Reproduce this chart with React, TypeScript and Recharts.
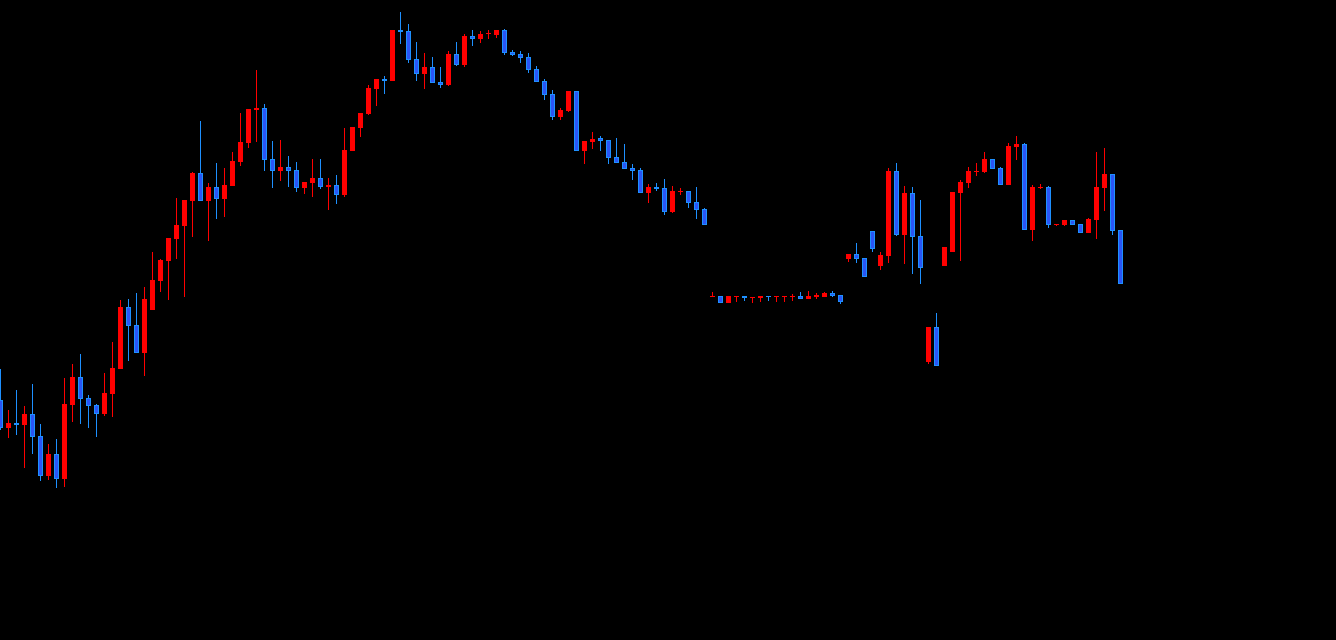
import { BarChart, Bar, XAxis, YAxis } from "recharts";

// price readings, one per session (oldest first)
const opens = [
  240, 212, 217, 215, 226, 204, 164, 186, 161, 235, 263, 242, 235, 226, 246, 271, 333, 315, 287, 330,
  359, 379, 401, 414, 439, 467, 439, 453, 441, 454, 478, 497, 530, 532, 481, 469, 473, 470, 452, 457,
  462, 453, 455, 445, 489, 512, 526, 551, 561, 559, 610, 609, 581, 566, 573, 558, 555, 586, 575, 604,
  601, 606, 605, 610, 588, 586, 583, 571, 559, 546, 523, 529, 549, 489, 498, 502, 500, 483, 478, 472,
  470, 447, 453, 452, 428, 448, 449, 438, 431, 343, 344, 337, 343, 344, 342, 342, 344, 343, 343, 343,
  344, 341, 343, 343, 347, 345, 381, 386, 382, 409, 374, 384, 469, 405, 447, 404, 278, 313, 374, 388,
  447, 457, 468, 468, 481, 472, 455, 493, 496, 410, 452, 453, 415, 415, 420, 416, 407, 420, 452, 466,
  410,
];
const highs = [
  271, 230, 250, 234, 256, 216, 196, 201, 262, 276, 286, 245, 236, 267, 298, 340, 341, 347, 353, 388,
  381, 402, 442, 440, 468, 519, 457, 477, 472, 488, 527, 531, 570, 536, 499, 500, 484, 478, 458, 481,
  481, 462, 465, 512, 513, 527, 555, 561, 564, 610, 628, 616, 598, 587, 583, 573, 589, 598, 606, 610,
  609, 610, 610, 611, 590, 589, 587, 574, 561, 550, 532, 549, 549, 499, 508, 504, 500, 502, 496, 476,
  472, 456, 457, 461, 454, 452, 449, 453, 432, 348, 344, 344, 344, 344, 343, 344, 344, 344, 344, 346,
  348, 349, 347, 348, 349, 345, 386, 397, 382, 409, 388, 472, 477, 454, 453, 440, 313, 327, 393, 448,
  460, 473, 477, 488, 481, 473, 497, 504, 497, 455, 456, 454, 416, 420, 420, 416, 422, 488, 492, 466,
  410,
];
const lows = [
  210, 202, 205, 172, 186, 159, 160, 152, 153, 218, 216, 212, 203, 224, 223, 271, 279, 287, 264, 330,
  348, 340, 381, 343, 403, 439, 399, 421, 423, 454, 474, 492, 498, 469, 452, 459, 453, 448, 446, 443,
  451, 430, 436, 443, 489, 503, 525, 534, 546, 559, 596, 577, 559, 551, 557, 552, 554, 574, 573, 594,
  597, 601, 602, 585, 584, 577, 567, 558, 540, 520, 520, 528, 489, 476, 491, 489, 476, 477, 471, 460,
  447, 437, 449, 425, 427, 445, 432, 421, 415, 343, 337, 337, 338, 339, 337, 338, 339, 338, 338, 339,
  341, 341, 341, 343, 343, 336, 378, 377, 363, 388, 370, 377, 404, 376, 366, 356, 276, 274, 374, 388,
  379, 452, 464, 467, 471, 455, 455, 480, 410, 399, 451, 412, 414, 414, 415, 407, 407, 401, 429, 405,
  356,
];
const closes = [
  212, 217, 215, 226, 203, 164, 186, 161, 236, 263, 241, 234, 226, 247, 272, 333, 314, 287, 341, 360,
  380, 402, 415, 440, 467, 439, 453, 441, 455, 479, 498, 531, 532, 480, 469, 473, 469, 452, 458, 462,
  453, 455, 445, 490, 513, 527, 552, 561, 559, 610, 608, 580, 566, 573, 557, 555, 586, 575, 604, 601,
  606, 607, 610, 587, 585, 582, 570, 558, 545, 523, 530, 549, 489, 499, 501, 499, 482, 477, 471, 469,
  447, 453, 451, 428, 449, 449, 437, 430, 415, 344, 337, 344, 344, 342, 343, 344, 343, 344, 344, 344,
  341, 344, 345, 347, 344, 338, 386, 381, 363, 391, 385, 469, 405, 447, 403, 372, 313, 274, 393, 448,
  458, 469, 469, 481, 471, 455, 494, 496, 410, 453, 453, 415, 416, 420, 415, 407, 421, 453, 466, 409,
  356,
];

const data = opens.map((open, i) => ({
  i,
  open,
  high: highs[i],
  low: lows[i],
  close: closes[i],
  range: [lows[i], highs[i]],
}));

const UP = "#ff0000";
const DOWN_EDGE = "#1e90ff";
const DOWN_FILL = "#2a55f5";

const Candle = (props: any) => {
  const { x, y, width, height, payload } = props;
  const { open, close, high, low } = payload;
  const up = close > open;
  const cx = Math.floor(x + width / 2) + 0.5;
  const k = high === low ? 0 : height / (high - low);
  const yOf = (v: number) => y + (high - v) * k;
  const top = yOf(Math.max(open, close));
  const h = Math.max(1, yOf(Math.min(open, close)) - top);
  const edge = up ? UP : DOWN_EDGE;

  return (
    <g>
      <line x1={cx} x2={cx} y1={yOf(high)} y2={yOf(low)} stroke={edge} strokeWidth={1} />
      {up || h <= 2 ? (
        <rect x={cx - 2.5} y={top} width={5} height={h} fill={edge} />
      ) : (
        <rect
          x={cx - 2}
          y={top + 0.5}
          width={4}
          height={h - 1}
          fill={DOWN_FILL}
          stroke={DOWN_EDGE}
          strokeWidth={1}
        />
      )}
    </g>
  );
};

export default function App() {
  return (
    <div style={{ position: "fixed", left: 0, top: 0, width: 1336, height: 640, background: "#000" }}>
      <BarChart width={1336} height={640} data={data} margin={{ top: 0, right: 0, bottom: 0, left: 0 }}>
        <XAxis dataKey="i" type="number" domain={[-0.0625, 166.9375]} allowDataOverflow hide />
        <YAxis type="number" domain={[0, 640]} allowDataOverflow hide width={0} />
        <Bar dataKey="range" barSize={7} shape={Candle} isAnimationActive={false} />
      </BarChart>
    </div>
  );
}
